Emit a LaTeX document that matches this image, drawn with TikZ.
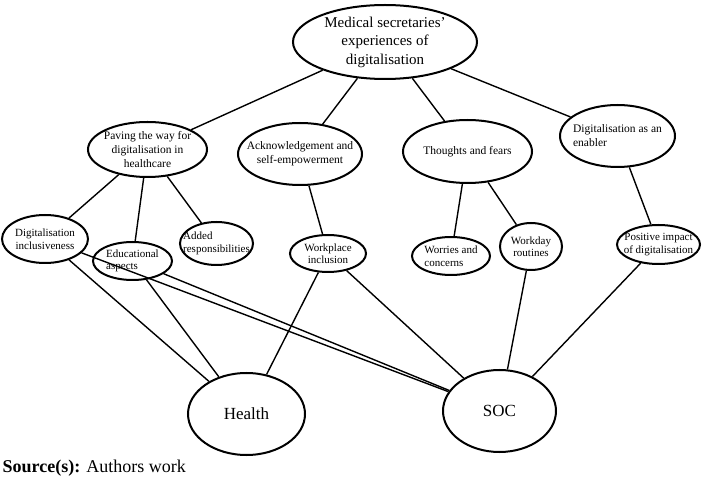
\documentclass[tikz,border=0pt]{standalone}
\usepackage{fontspec}
\setmainfont{Liberation Serif}
\usetikzlibrary{shapes.geometric}

\begin{document}
\begin{tikzpicture}[x=1pt, y=-1pt, line width=1.4pt,
		theme/.style={ellipse, draw, line width=2pt, inner xsep=-20pt, inner ysep=-10pt},
		big/.style={font=\fontsize{15}{18.5}\selectfont},
		mid/.style={font=\fontsize{11.5}{14}\selectfont},
		small/.style={font=\fontsize{11}{12.5}\selectfont},
		outcome/.style={font=\fontsize{17}{20}\selectfont}]
			\useasboundingbox (0,0) rectangle (702,478);
			% main theme
			\node [theme, big, align=center, minimum width=184pt, minimum height=74pt] (top) at (385,42) {Medical secretaries'\\experiences of\\digitalisation};
			% themes
			\node [theme, mid, align=center, minimum width=119pt, minimum height=55pt] (paving) at (147.5,149.5) {Paving the way for\\digitalisation in\\healthcare};
			\node [theme, mid, align=center, minimum width=124pt, minimum height=62pt] (ack) at (300,154) {Acknowledgement and\\self-empowerment};
			\node [theme, mid, align=center, minimum width=129pt, minimum height=63pt] (thoughts) at (467.5,151.5) {Thoughts and fears};
			\node [theme, mid, align=left, minimum width=115pt, minimum height=62pt] (enabler) at (617.5,136) {Digitalisation as an\\enabler};
			% sub-themes
			\node [theme, small, align=center, minimum width=86pt, minimum height=48pt] (inclusive) at (45,239) {Digitalisation\\inclusiveness};
			\node [theme, small, align=left, minimum width=79pt, minimum height=38pt] (education) at (132.5,261) {Educational\\aspects};
			\node [theme, small, align=left, minimum width=73pt, minimum height=43pt] (added) at (216.5,243.5) {Added\\responsibilities};
			\node [theme, small, align=center, minimum width=76pt, minimum height=37pt] (workplace) at (328,253.5) {Workplace\\inclusion};
			\node [theme, small, align=left, minimum width=78pt, minimum height=38pt] (worries) at (451,256) {Worries and\\concerns};
			\node [theme, small, align=center, minimum width=62pt, minimum height=47pt] (workday) at (531,246.5) {Workday\\routines};
			\node [theme, small, align=center, minimum width=83pt, minimum height=39pt] (positive) at (658.5,244.5) {Positive impact\\of digitalisation};
			% outcomes
			\node [theme, outcome, minimum width=117pt, minimum height=82pt] (health) at (246.5,414) {Health};
			\node [theme, outcome, minimum width=113pt, minimum height=82pt] (soc) at (499.5,411) {SOC};
			\node [anchor=base west, inner sep=0pt, font=\fontsize{18}{21}\selectfont] (source) at (2,472) {\textbf{Source(s):} Authors work};
			\path (top) edge (paving) ;
			\path (top) edge (ack) ;
			\path (top) edge (thoughts) ;
			\path (top) edge (enabler) ;
			\path (paving) edge (inclusive) ;
			\path (paving) edge (education) ;
			\path (paving) edge (added) ;
			\path (ack) edge (workplace) ;
			\path (thoughts) edge (worries) ;
			\path (thoughts) edge (workday) ;
			\path (enabler) edge (positive) ;
			\path (inclusive) edge (health) ;
			\path (inclusive) edge (soc) ;
			\path (education) edge (health) ;
			\path (education) edge (soc) ;
			\path (workplace) edge (health) ;
			\path (workplace) edge (soc) ;
			\path (workday) edge (soc) ;
			\path (positive) edge (soc) ;
		\end{tikzpicture}
\end{document}
